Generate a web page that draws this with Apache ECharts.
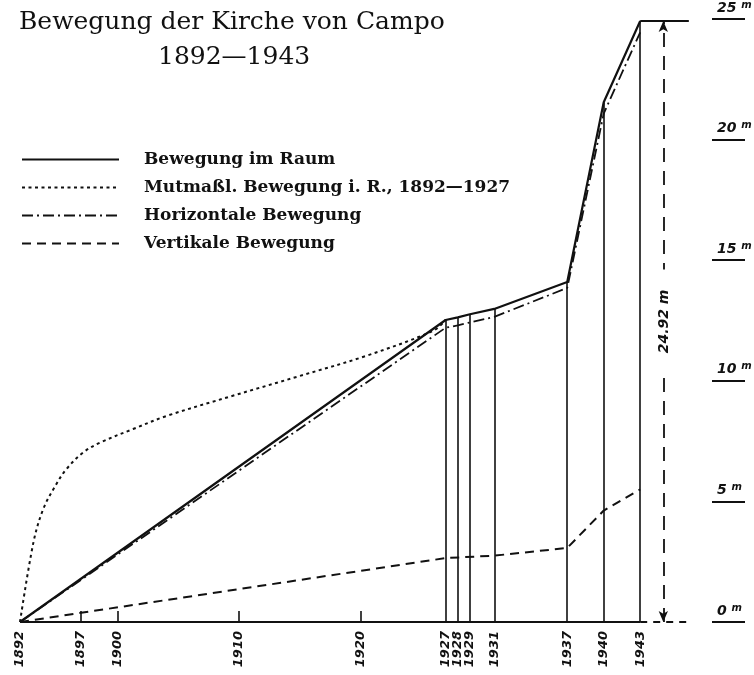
<!DOCTYPE html>
<html>
<head>
<meta charset="utf-8">
<script src="https://cdn.jsdelivr.net/npm/echarts@6/dist/echarts.min.js"></script>
<style>
  html, body { margin: 0; padding: 0; background: #fff; }
  #chart { width: 754px; height: 675px; }
</style>
</head>
<body>
<div id="chart"></div>
<script>
// Bewegung im Raum / horizontale Bewegung, gemessen
let years = [1892, 1927, 1928, 1929, 1931, 1937, 1940, 1943];
let raum = [0, 12.52, 12.63, 12.76, 12.98, 14.1, 21.55, 24.92];
let horiz = [0, 12.2, 12.3, 12.42, 12.65, 13.85, 21.08, 24.45];

// vertikale Bewegung
let vertYears = [1892, 1927, 1931, 1937, 1940, 1943];
let vert = [0, 2.65, 2.75, 3.07, 4.62, 5.5];

// mutmassliche Bewegung 1892-1927
let mutYears = [1892, 1893.1, 1893.9, 1894.9, 1895.8, 1897.2, 1898.6, 1901.3, 1904.1, 1909.5, 1915, 1920.5, 1926, 1927];
let mut = [0, 3.29, 4.67, 5.64, 6.33, 7.03, 7.44, 8.0, 8.55, 9.38, 10.2, 11.04, 12.08, 12.52];

let labelYears = [1892, 1897, 1900, 1910, 1920, 1927, 1928, 1929, 1931, 1937, 1940, 1943];
let tickYears = [1897, 1900, 1910, 1920];
let lineYears = [1927, 1928, 1929, 1931, 1937, 1940, 1943];
let total = 24.92;

let names = [
  "Bewegung im Raum",
  "Mutmaßl. Bewegung i. R., 1892—1927",
  "Horizontale Bewegung",
  "Vertikale Bewegung"
];

function pairs(xs, ys) {
  return xs.map((x, i) => [x, ys[i]]);
}

let ink = "#111";
let hand = {
  fontFamily: "DejaVu Sans",
  fontStyle: "italic",
  fontWeight: "bold",
  color: ink
};

// senkrechte Linien bis zur Raumkurve
let verticals = lineYears.map(y => [
  { coord: [y, 0] },
  { coord: [y, raum[years.indexOf(y)]] }
]);

let last = years[years.length - 1];
let dimX = 1944.9;
let extX = 1947;

var myChart = echarts.init(document.getElementById("chart"));
myChart.setOption({
  animation: false,
  backgroundColor: "#fff",
  color: [ink, ink, ink, ink, ink],
  title: [
    {
      text: "Bewegung der Kirche von Campo",
      left: 14,
      top: 5,
      textStyle: { fontFamily: "DejaVu Serif", fontSize: 25, fontWeight: "normal", color: ink }
    },
    {
      text: "1892—1943",
      left: 153,
      top: 40,
      textStyle: { fontFamily: "DejaVu Serif", fontSize: 25, fontWeight: "normal", color: ink }
    }
  ],
  legend: {
    data: names,
    orient: "vertical",
    left: 16,
    top: 146,
    itemWidth: 97,
    itemHeight: 12,
    itemGap: 11,
    selectedMode: false,
    itemStyle: { opacity: 0 },
    textStyle: {
      fontFamily: "DejaVu Serif",
      fontSize: 17,
      fontWeight: "bold",
      color: ink,
      padding: [0, 0, 0, 20]
    }
  },
  grid: { left: 20, right: 53, top: 19, bottom: 53, outerBoundsMode: "none" },
  xAxis: {
    type: "value",
    min: 1892,
    max: 1948,
    axisLine: { show: false },
    splitLine: { show: false },
    axisTick: {
      show: true,
      inside: true,
      length: 11,
      customValues: tickYears,
      lineStyle: { color: ink, width: 1.6 }
    },
    axisLabel: {
      customValues: labelYears,
      formatter: v => String(v),
      rotate: 90,
      margin: 9,
      fontSize: 13,
      ...hand
    }
  },
  yAxis: {
    type: "value",
    position: "right",
    offset: 11,
    min: 0,
    max: 25,
    interval: 5,
    axisLine: { show: false },
    splitLine: { show: false },
    axisTick: { show: true, length: 33, lineStyle: { color: ink, width: 2 } },
    axisLabel: {
      margin: 5,
      verticalAlign: "bottom",
      padding: [0, 0, 3, 0],
      formatter: v => "{v|" + v + " }{m|m}",
      rich: {
        v: { fontSize: 14, ...hand },
        m: { fontSize: 10, ...hand, padding: [0, 0, 6, 0] }
      }
    }
  },
  series: [
    {
      name: names[0],
      type: "line",
      data: pairs(years, raum),
      symbol: "none",
      silent: true,
      lineStyle: { color: ink, width: 2.2, type: "solid" },
      markLine: {
        silent: true,
        symbol: ["none", "none"],
        label: { show: false },
        lineStyle: { color: ink, width: 1.6, type: "solid" },
        data: verticals
      }
    },
    {
      name: names[1],
      type: "line",
      data: pairs(mutYears, mut),
      smooth: 0.35,
      symbol: "none",
      silent: true,
      lineStyle: { color: ink, width: 2, type: [3, 3.5] }
    },
    {
      name: names[2],
      type: "line",
      data: pairs(years, horiz),
      symbol: "none",
      silent: true,
      lineStyle: { color: ink, width: 1.8, type: [11, 4, 2, 4] }
    },
    {
      name: names[3],
      type: "line",
      data: pairs(vertYears, vert),
      symbol: "none",
      silent: true,
      lineStyle: { color: ink, width: 2, type: [9, 6] }
    },
    {
      // Grundlinie, Masslinie 24.92 m
      name: "dim",
      type: "line",
      data: [],
      silent: true,
      markLine: {
        silent: true,
        symbol: ["none", "none"],
        label: { show: false },
        lineStyle: { color: ink, width: 2, type: "solid" },
        data: [
          [{ coord: [1892, 0] }, { coord: [last, 0] }],
          [{ coord: [last, 0], lineStyle: { type: [7, 6] } }, { coord: [extX, 0] }],
          [{ coord: [last, total] }, { coord: [extX, total] }],
          [
            {
              coord: [dimX, 0],
              symbol: "arrow",
              lineStyle: { type: [14, 9], width: 1.8 },
              label: {
                show: true,
                position: "middle",
                distance: -10,
                formatter: "24.92 m",
                backgroundColor: "#fff",
                padding: [2, 20],
                fontSize: 14,
                ...hand
              }
            },
            { coord: [dimX, total], symbol: "arrow" }
          ]
        ],
        symbolSize: [7, 11]
      }
    }
  ]
});
</script>
</body>
</html>
